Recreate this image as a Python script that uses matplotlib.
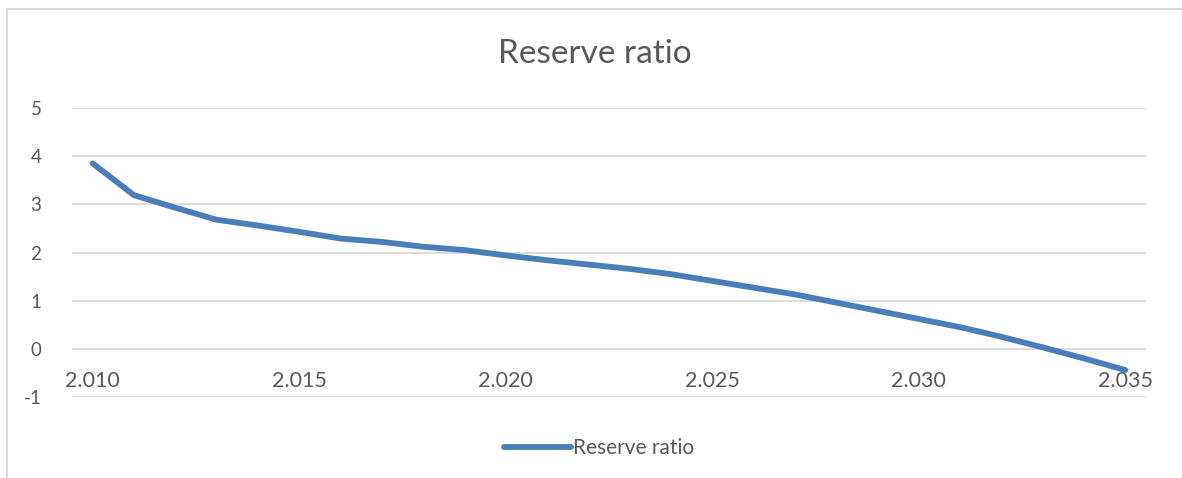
import matplotlib
matplotlib.use("Agg")
import matplotlib.pyplot as plt
from matplotlib.patches import Rectangle
from matplotlib.ticker import FuncFormatter

# Reserve ratio by year
years = [2010, 2011, 2012, 2013, 2014, 2015, 2016, 2017, 2018, 2019,
         2020, 2021, 2022, 2023, 2024, 2025, 2026, 2027, 2028, 2029,
         2030, 2031, 2032, 2033, 2034, 2035]
reserve_ratio = [3.85, 3.19, 2.93, 2.68, 2.56, 2.43, 2.29, 2.22, 2.12, 2.05,
                 1.94, 1.84, 1.75, 1.66, 1.55, 1.41, 1.27, 1.13, 0.96, 0.79,
                 0.62, 0.45, 0.25, 0.03, -0.20, -0.44]
x_ticks = [2010, 2015, 2020, 2025, 2030, 2035]
y_ticks = [-1, 0, 1, 2, 3, 4, 5]

text_color = "#595959"
grid_color = "#d9d9d9"
line_color = "#4a7ebb"

plt.rcParams["font.family"] = ["Lato", "DejaVu Sans"]
plt.rcParams["axes.unicode_minus"] = False

W, H = 1182, 478
fig = plt.figure(figsize=(W / 100, H / 100), dpi=100)

# chart border (light grey, cut off on right/bottom like the screenshot)
fig.patches.append(Rectangle((7 / W, -0.1), 1.2, 1 - 9 / H + 0.1,
                             transform=fig.transFigure, fill=False,
                             edgecolor="#d9d9d9", linewidth=1.5))

ax = fig.add_axes([72 / W, (H - 397) / H, (1146 - 72) / W, (397 - 108) / H])
ax.plot(years, reserve_ratio, color=line_color, linewidth=4.2,
        solid_capstyle="round", label="Reserve ratio", zorder=3)

ax.set_xlim(2009.5, 2035.5)
ax.set_ylim(-1, 5)
ax.set_yticks(y_ticks)
ax.set_xticks(x_ticks)
ax.xaxis.set_major_formatter(FuncFormatter(lambda v, p: f"{int(v) // 1000}.{int(v) % 1000:03d}"))
ax.grid(axis="y", color=grid_color, linewidth=1.3)
ax.set_axisbelow(True)
for s in ax.spines.values():
    s.set_visible(False)
ax.spines["bottom"].set_position(("data", 0))
ax.tick_params(axis="both", length=0, labelcolor=text_color)
ax.tick_params(axis="y", pad=22, labelsize=13.5)
ax.tick_params(axis="x", pad=16, labelsize=15.5)

fig.text(595 / W, 1 - 54 / H, "Reserve ratio", ha="center", va="center",
         fontsize=24, color=text_color)

leg = fig.legend(loc="center", bbox_to_anchor=(599 / W, 1 - 448 / H), frameon=False,
                 fontsize=15, handlelength=3.2, handletextpad=0.1)
for t in leg.get_texts():
    t.set_color(text_color)

fig.savefig("out.png", dpi=100)
